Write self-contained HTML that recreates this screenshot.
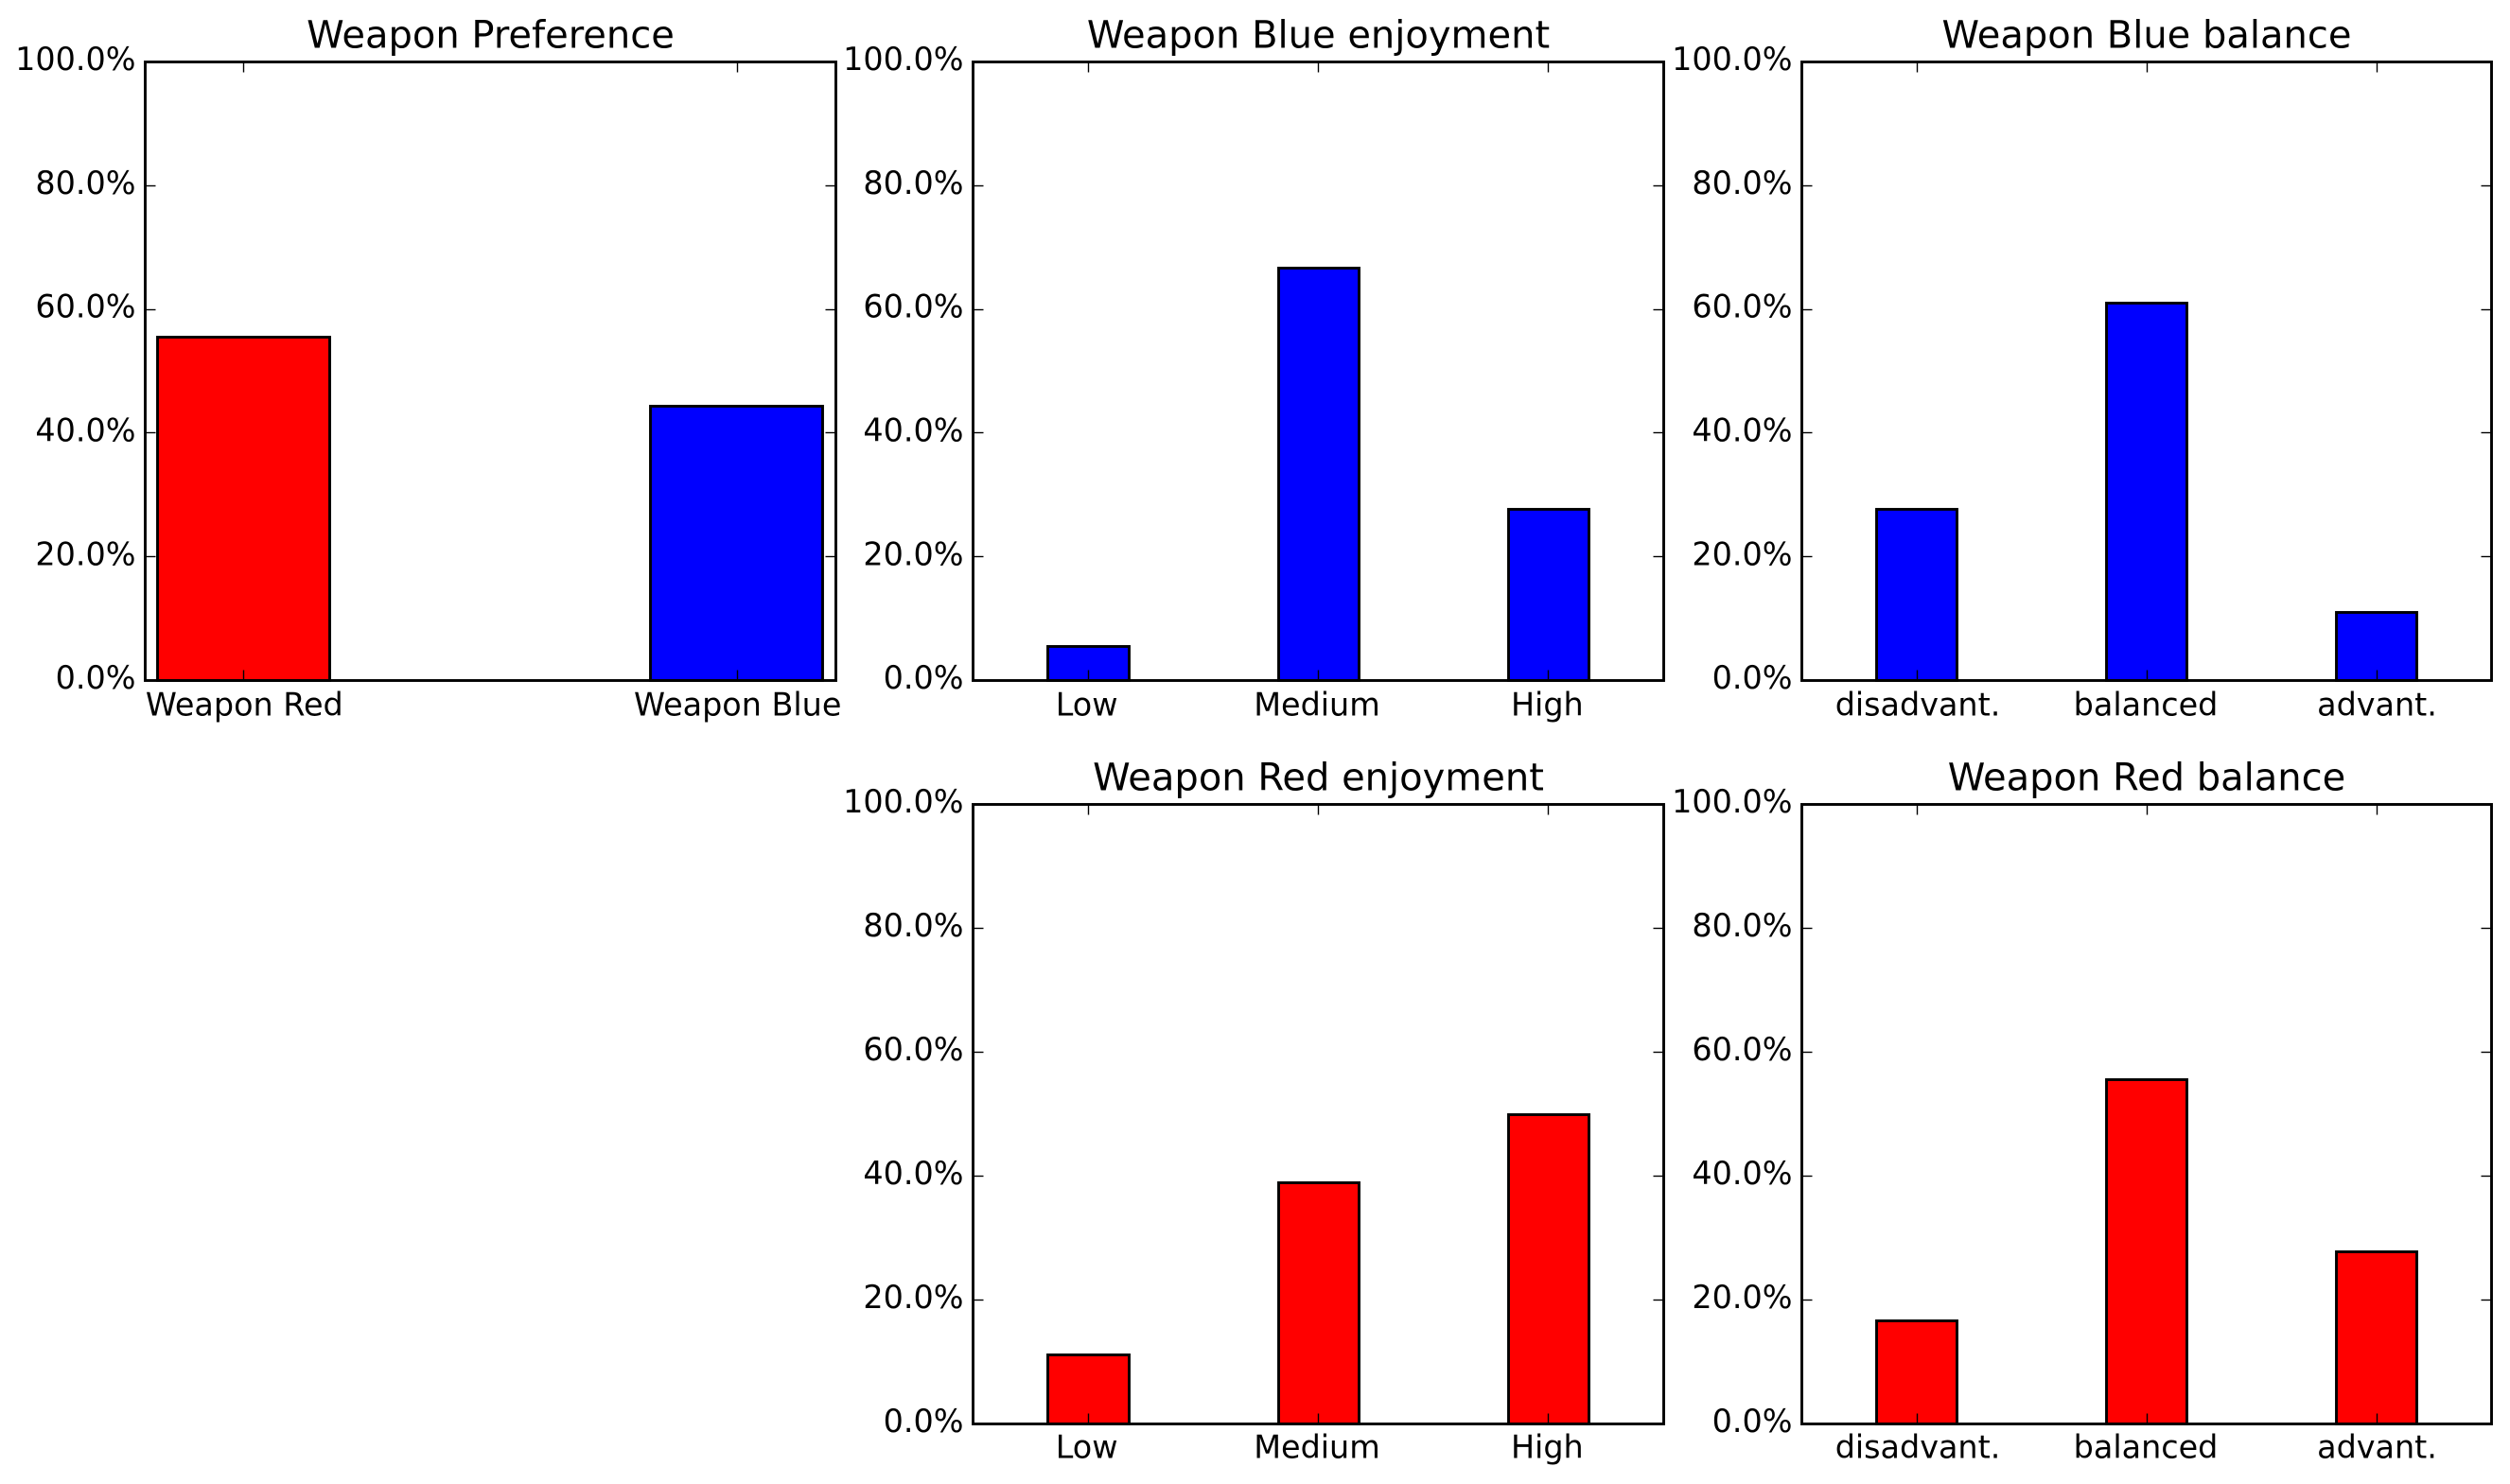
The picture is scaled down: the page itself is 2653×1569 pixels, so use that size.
<!DOCTYPE html>
<html lang="en">
<head>
<meta charset="utf-8">
<title>Weapon survey charts</title>
<style>
html,body{margin:0;padding:0;background:#fff;}
svg{display:block;position:absolute;left:0;top:0;}
text{font-family:"DejaVu Sans","Liberation Sans",sans-serif;fill:#000;}
.tick-text{font-size:33.4px;}
.title-text{font-size:40px;}
</style>
</head>
<body>
<svg id="figure" xmlns="http://www.w3.org/2000/svg" width="2653" height="1569" viewBox="0 0 2653 1569"></svg>
<script>
const yTicks = [0, 20, 40, 60, 80, 100];
const yTickLabels = ['0.0%', '20.0%', '40.0%', '60.0%', '80.0%', '100.0%'];

const preferenceCategories = ['Weapon Red', 'Weapon Blue'];
const preferenceValues = [55.56, 44.44];
const preferenceColors = ['#ff0000', '#0000ff'];

const enjoymentCategories = ['Low', 'Medium', 'High'];
const blueEnjoymentValues = [5.56, 66.67, 27.78];
const redEnjoymentValues = [11.11, 38.89, 50.0];

const balanceCategories = ['disadvant.', 'balanced', 'advant.'];
const blueBalanceValues = [27.78, 61.11, 11.11];
const redBalanceValues = [16.67, 55.56, 27.78];

const SVG_NS = 'http://www.w3.org/2000/svg';
const figure = document.getElementById('figure');

function make(parent, tag, attrs) {
  const el = document.createElementNS(SVG_NS, tag);
  for (const k in attrs) el.setAttribute(k, attrs[k]);
  parent.appendChild(el);
  return el;
}

function snap(v) {
  return Math.floor(v + 0.5) + 0.5;
}

function drawPanel(box, name, title, categories, values, colors, xMin, xMax) {
  const width = box.right - box.left;
  const height = box.bottom - box.top;
  const xScale = v => box.left + (v - xMin) / (xMax - xMin) * width;
  const yScale = v => box.bottom - v / 100 * height;
  const barWidth = 0.35;

  const group = make(figure, 'g', {});
  
  

  const background = make(group, 'rect', { x: box.left, y: box.top, width: width, height: height, fill: '#fff' });
  
  

  values.forEach((value, i) => {
    const x0 = snap(xScale(i - barWidth / 2) - box.barXSnap);
    const x1 = snap(xScale(i + barWidth / 2) - box.barXSnap);
    const yTop = snap(yScale(value) - box.barSnap);
    const bar = make(group, 'rect', {
      x: x0, y: yTop, width: x1 - x0, height: box.bottom - yTop,
      fill: colors[i % colors.length], stroke: '#000', 'stroke-width': 2.9
    });
    
    
  });

  yTicks.forEach((tick, i) => {
    const y = snap(yScale(tick) - 0.5);
    const leftTick = make(group, 'line', { x1: box.left, x2: box.left + 11, y1: y, y2: y, stroke: '#000', 'stroke-width': 1.39 });
    
    
    const rightTick = make(group, 'line', { x1: box.right, x2: box.right - 11, y1: y, y2: y, stroke: '#000', 'stroke-width': 1.39 });
    
    
    const label = make(group, 'text', { x: box.left - 10, y: yScale(tick) + 8.6, 'text-anchor': 'end', class: 'tick-text' });
    label.textContent = yTickLabels[i];
    
    
  });

  categories.forEach((category, i) => {
    const x = xScale(i);
    const tickX = snap(x - 0.5);
    const bottomTick = make(group, 'line', { x1: tickX, x2: tickX, y1: box.bottom, y2: box.bottom - 11, stroke: '#000', 'stroke-width': 1.39 });
    
    
    const topTick = make(group, 'line', { x1: tickX, x2: tickX, y1: box.top, y2: box.top + 11, stroke: '#000', 'stroke-width': 1.39 });
    
    
    const label = make(group, 'text', { x: x + box.labelShifts[i], y: box.bottom + box.labelGap, 'text-anchor': 'middle', class: 'tick-text' });
    label.textContent = category;
    
    
  });

  const frame = make(group, 'rect', { x: box.left, y: box.top, width: width, height: height, fill: 'none', stroke: '#000', 'stroke-width': 2.9 });
  
  

  const titleEl = make(group, 'text', { x: box.left + width / 2, y: box.top - 15, 'text-anchor': 'middle', class: 'title-text' });
  titleEl.textContent = title;
  
  
}

drawPanel({ left: 153.5, right: 883.5, top: 65.5, bottom: 719.5, labelGap: 37, labelShifts: [0.5, 0.5], barSnap: 0, barXSnap: 1 }, 'weapon-preference', 'Weapon Preference', preferenceCategories, preferenceValues, preferenceColors, -0.2, 1.2);
drawPanel({ left: 1028.5, right: 1758.5, top: 65.5, bottom: 719.5, labelGap: 37, labelShifts: [-1.5, -1.5, -1.5], barSnap: 0, barXSnap: 0.2 }, 'blue-enjoyment', 'Weapon Blue enjoyment', enjoymentCategories, blueEnjoymentValues, ['#0000ff'], -0.5, 2.5);
drawPanel({ left: 1904.5, right: 2633.5, top: 65.5, bottom: 719.5, labelGap: 37, labelShifts: [1, -1, 0.5], barSnap: 0, barXSnap: 0.2 }, 'blue-balance', 'Weapon Blue balance', balanceCategories, blueBalanceValues, ['#0000ff'], -0.5, 2.5);
drawPanel({ left: 1028.5, right: 1758.5, top: 850.5, bottom: 1505.5, labelGap: 36, labelShifts: [-1.5, -1.5, -1.5], barSnap: 0.45, barXSnap: 0.2 }, 'red-enjoyment', 'Weapon Red enjoyment', enjoymentCategories, redEnjoymentValues, ['#ff0000'], -0.5, 2.5);
drawPanel({ left: 1904.5, right: 2633.5, top: 850.5, bottom: 1505.5, labelGap: 36, labelShifts: [1, -1, 0.5], barSnap: 0.45, barXSnap: 0.2 }, 'red-balance', 'Weapon Red balance', balanceCategories, redBalanceValues, ['#ff0000'], -0.5, 2.5);
</script>
</body>
</html>
